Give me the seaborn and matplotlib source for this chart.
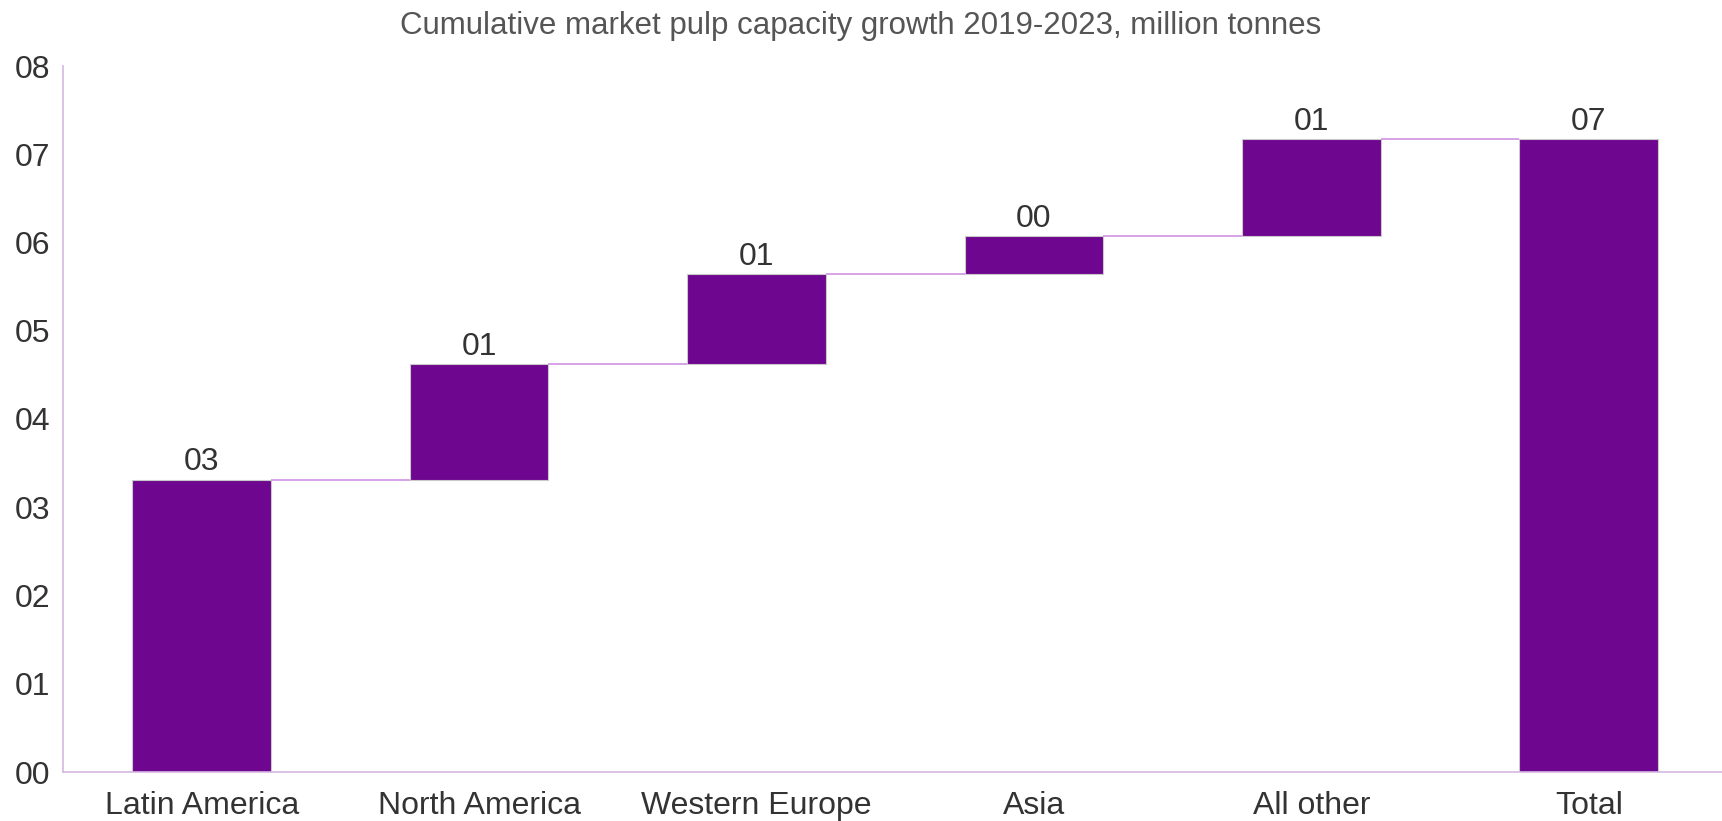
import matplotlib
matplotlib.use("Agg")
import matplotlib.pyplot as plt
import numpy as np
import pandas as pd
import seaborn as sns

# Capacity additions by region, million tonnes
regions = ["Latin America", "North America", "Western Europe", "Asia", "All other"]
increments = [3.31, 1.31, 1.02, 0.43, 1.10]
total_label = "Total"

title = "Cumulative market pulp capacity growth 2019-2023, million tonnes"
y_ticks = [0, 1, 2, 3, 4, 5, 6, 7, 8]

bar_color = "#6e068f"
connector_color = "#d49be6"
spine_color = "#d3b8e0"
text_color = "#333333"

sns.set_theme(style="white")
plt.rcParams["font.family"] = ["Liberation Sans", "DejaVu Sans"]

tops = np.cumsum(increments)
total = tops[-1]
categories = regions + [total_label]
heights = list(increments) + [total]
bottoms = list(tops - np.array(increments)) + [0.0]

df = pd.DataFrame({"category": categories, "height": heights, "bottom": bottoms})

fig = plt.figure(figsize=(17.22, 8.21), dpi=100)
ax = fig.add_axes([63 / 1722, 1 - 772 / 821, 1 - 63 / 1722, (772 - 66) / 821])

sns.barplot(data=df, x="category", y="height", bottom=df["bottom"].values,
            color=bar_color, saturation=1, width=0.5, edgecolor="#c9c9c9",
            linewidth=0.8, ax=ax)

# connectors between consecutive bars
levels = list(tops)
for i, lvl in enumerate(levels):
    ax.hlines(lvl, i + 0.25, i + 0.75, color=connector_color, linewidth=1.3, zorder=1)

# value labels
for i, (h, b) in enumerate(zip(heights, bottoms)):
    ax.text(i, b + h + 0.03, f"{h:02.0f}", ha="center", va="bottom",
            fontsize=23, color=text_color)

ax.set_xlim(-0.5, 5.48)
ax.set_ylim(0, 8)
ax.set_yticks(y_ticks)
ax.set_yticklabels([f"{t:02d}" for t in y_ticks])
ax.set_xlabel("")
ax.set_ylabel("")
ax.tick_params(axis="both", labelsize=23, colors=text_color, length=0)
ax.tick_params(axis="x", pad=14)
ax.tick_params(axis="y", pad=9)

for side in ["top", "right"]:
    ax.spines[side].set_visible(False)
for side in ["left", "bottom"]:
    ax.spines[side].set_color(spine_color)
    ax.spines[side].set_linewidth(1.2)

fig.text(0.5, 1 - 26 / 821, title, ha="center", va="center", fontsize=22.5,
         color="#555555")

fig.savefig("out.png", dpi=100, facecolor="white")
